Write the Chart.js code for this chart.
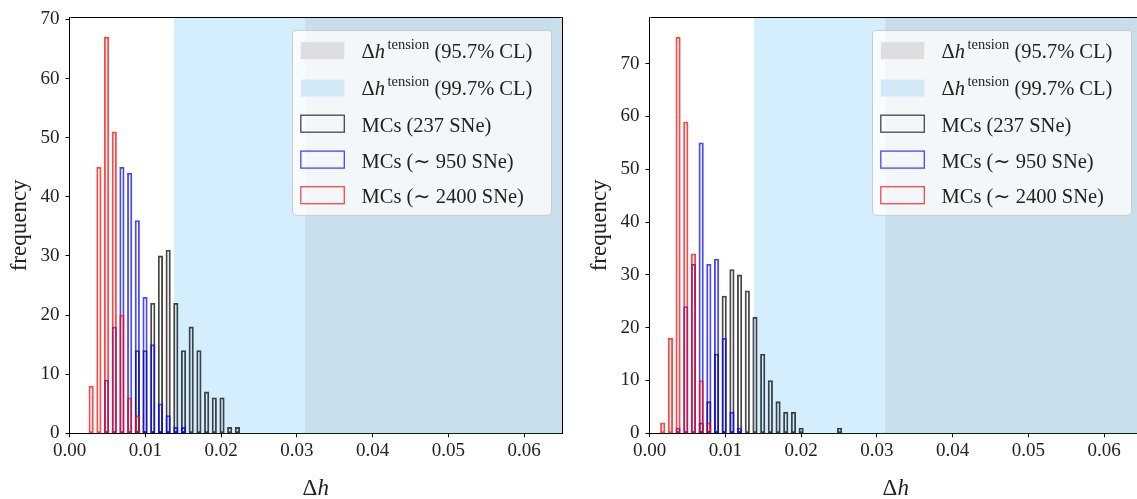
<!DOCTYPE html>
<html><head><meta charset="utf-8">
<script src="https://cdn.jsdelivr.net/npm/chart.js@4.4.1/dist/chart.umd.min.js"></script>
<style>
html,body{margin:0;padding:0;background:#fff;overflow:hidden;width:1137px;height:499px;position:relative;}
.p{position:absolute;top:0;width:580px;height:499px;}
canvas{display:block;}
</style></head><body>
<div class="p" style="left:0"><canvas id="c1" width="580" height="499" style="width:580px;height:499px"></canvas></div>
<div class="p" style="left:580px"><canvas id="c2" width="580" height="499" style="width:580px;height:499px"></canvas></div>
<script>
// ---------- data ----------
const leftBinCenters = [0.00286,0.00388,0.00489,0.00591,0.00692,0.00794,0.00895,0.00997,0.01099,0.01200,0.01302,0.01403,0.01505,0.01606,0.01708,0.01810,0.01911,0.02013,0.02114,0.02216];
const leftBlack = [0,0,0,0,0,0,14,14,22,30,31,22,14,18,14,7,6,6,1,1];
const leftBlue  = [0,0,9,18,45,44,36,23,15,5,3,1,1,0,0,0,0,0,0,0];
const leftRed   = [8,45,67,51,20,6,3,0,0,0,0,0,0,0,0,0,0,0,0,0];

const rightBinCenters = [0.00174,0.00276,0.00377,0.00479,0.00580,0.00682,0.00783,0.00885,0.00986,0.01088,0.01189,0.01291,0.01392,0.01494,0.01595,0.01697,0.01798,0.01900,0.02001,0.02103,0.02204,0.02306,0.02407,0.02509];
const rightBlack = [0,0,0,0,0,2,6,15,26,31,30,27,22,15,10,6,4,4,1,0,0,0,0,1];
const rightBlue  = [0,0,1,24,32,55,32,33,18,4,1,0,0,0,0,0,0,0,0,0,0,0,0,0];
const rightRed   = [2,18,75,59,34,10,2,0,0,0,0,0,0,0,0,0,0,0,0,0,0,0,0,0];

const tension957Start = 0.0311;   // grey band (95.7% CL) starts here
const tension997Start = 0.0138;   // light-blue band (99.7% CL) starts here
const xRange = [0, 0.065];
const xTicks = [0, 0.01, 0.02, 0.03, 0.04, 0.05, 0.06];
const yTicks = [0, 10, 20, 30, 40, 50, 60, 70];
const leftYMax = 70.35;
const rightYMax = 78.75;

const legendLabels = [
  {pre:'\u0394', it:'h', sup:'tension', post:' (95.7% CL)'},
  {pre:'\u0394', it:'h', sup:'tension', post:' (99.7% CL)'},
  {text:'MCs (237 SNe)'},
  {text:'MCs (\u223C 950 SNe)'},
  {text:'MCs (\u223C 2400 SNe)'}
];

// ---------- styles ----------
const SERIF = "'Liberation Serif','DejaVu Serif',serif";
const TXT = '#222';
const C_BLACK = 'rgba(0,0,0,0.72)';
const C_BLUE = 'rgba(0,0,255,0.72)';
const C_RED = 'rgba(255,0,0,0.72)';
const BAND_BLUE = 'rgba(135,206,250,0.35)';
const BAND_GREY = 'rgba(128,128,128,0.15)';

function pts(xs, ys){ const o=[]; xs.forEach((x,i)=>{ if(ys[i]>0) o.push({x:x,y:ys[i]}); }); return o; }

const bandPlugin = {
  id:'bands',
  beforeDatasetsDraw(chart){
    const {ctx, chartArea:a, scales:{x}} = chart;
    ctx.save();
    const x1 = x.getPixelForValue(tension997Start);
    ctx.fillStyle = BAND_BLUE;
    ctx.fillRect(x1, a.top, a.right - x1, a.bottom - a.top);
    const x2 = x.getPixelForValue(tension957Start);
    ctx.fillStyle = BAND_GREY;
    ctx.fillRect(x2, a.top, a.right - x2, a.bottom - a.top);
    ctx.restore();
  }
};

function drawRich(ctx, parts, x, y){
  let cx = x;
  for(const p of parts){
    ctx.font = p.font;
    ctx.fillText(p.t, cx, y + (p.dy||0));
    cx += ctx.measureText(p.t).width + (p.gap||0);
  }
  return cx;
}
function richWidth(ctx, parts){
  let w=0; for(const p of parts){ ctx.font=p.font; w+=ctx.measureText(p.t).width+(p.gap||0);} return w;
}

const decorPlugin = {
  id:'decor',
  afterDraw(chart){
    const {ctx, chartArea:a} = chart;
    ctx.save();
    ctx.strokeStyle = '#000'; ctx.lineWidth = 1;
    ctx.beginPath();
    ctx.moveTo(Math.round(a.left)+0.5, Math.round(a.top)+0.5);
    ctx.lineTo(Math.round(a.right)+0.5, Math.round(a.top)+0.5);
    ctx.lineTo(Math.round(a.right)+0.5, Math.round(a.bottom)+0.5);
    ctx.stroke();

    const w = 259, h = 185;
    const bx = a.right - 10.5 - w, by = a.top + 13;
    ctx.beginPath();
    ctx.roundRect(bx, by, w, h, 4);
    ctx.fillStyle = 'rgba(255,255,255,0.78)';
    ctx.fill();
    ctx.strokeStyle = 'rgba(200,200,200,0.9)';
    ctx.lineWidth = 1;
    ctx.stroke();

    const rowC = [20.2, 57.7, 93.3, 129.2, 164.8];
    const handles = [
      {fill:'#dcdedf'}, {fill:'#d3e9f8'},
      {edge:C_BLACK}, {edge:C_BLUE}, {edge:C_RED}
    ];
    const fMain = '20.5px ' + SERIF;
    const fIt = 'italic 20.5px ' + SERIF;
    const fSup = '14.5px ' + SERIF;
    ctx.textBaseline = 'alphabetic';
    ctx.textAlign = 'left';
    for(let i=0;i<5;i++){
      const cy = by + rowC[i];
      const hx = bx + 8.3, hw = 43.5, hh = 17;
      const hd = handles[i];
      if(hd.fill){ ctx.fillStyle = hd.fill; ctx.fillRect(hx, cy-hh/2, hw, hh); }
      else { ctx.strokeStyle = hd.edge; ctx.lineWidth = 1.3; ctx.strokeRect(hx, cy-hh/2, hw, hh); }
      ctx.fillStyle = TXT;
      const L = legendLabels[i];
      const tx = bx + 69;
      if(L.text){
        ctx.font = fMain; ctx.fillText(L.text, tx, cy + 8.2);
      } else {
        drawRich(ctx, [
          {t:L.pre, font:fMain},
          {t:L.it, font:fIt, gap:2.5},
          {t:L.sup, font:fSup, dy:-9},
          {t:L.post, font:fMain}
        ], tx, cy + 7.2);
      }
    }

    const parts = [{t:'\u0394', font:'23px '+SERIF},{t:'h', font:'italic 23px '+SERIF}];
    const tw = richWidth(ctx, parts);
    ctx.fillStyle = TXT;
    drawRich(ctx, parts, (a.left + a.right)/2 - tw/2, 495);
    ctx.restore();
  }
};

function makeChart(id, bins, blk, blu, red, ymax){
  return new Chart(document.getElementById(id), {
    type:'bar',
    data:{
      datasets:[
        {label:'MCs (237 SNe)', data:pts(bins, blk), borderColor:C_BLACK, backgroundColor:'rgba(0,0,0,0)', order:3},
        {label:'MCs (~ 950 SNe)', data:pts(bins, blu), borderColor:C_BLUE, backgroundColor:'rgba(0,0,0,0)', order:2},
        {label:'MCs (~ 2400 SNe)', data:pts(bins, red), borderColor:C_RED, backgroundColor:'rgba(0,0,0,0)', order:1}
      ]
    },
    options:{
      responsive:false,
      animation:false,
      devicePixelRatio:1,
      datasets:{ bar:{ grouped:false, barThickness:4.5, borderWidth:1.2, borderSkipped:false } },
      layout:{ padding:{ top:12, right:18, left:0, bottom:0 } },
      plugins:{ legend:{display:false}, tooltip:{enabled:false} },
      scales:{
        x:{
          type:'linear', min:xRange[0], max:xRange[1], offset:false,
          afterFit(s){ s.height = 65.7; },
          afterBuildTicks(s){ s.ticks = xTicks.map(v=>({value:v})); },
          grid:{ offset:false, drawOnChartArea:false, drawTicks:true, tickLength:4, color:'#000', tickColor:'#000' },
          border:{ display:true, color:'#000', width:1 },
          ticks:{ padding:2, color:TXT, font:{family:SERIF, size:19}, maxRotation:0, autoSkip:false,
                  callback:(v)=>Number(v).toFixed(2) }
        },
        y:{
          type:'linear', min:0, max:ymax,
          afterFit(s){ s.width = 69.5; },
          afterBuildTicks(s){ s.ticks = yTicks.map(v=>({value:v})); },
          grid:{ drawOnChartArea:false, drawTicks:true, tickLength:4, color:'#000', tickColor:'#000' },
          border:{ display:true, color:'#000', width:1 },
          ticks:{ padding:6, color:TXT, font:{family:SERIF, size:19}, autoSkip:false,
                  callback:(v)=>String(v) },
          title:{ display:true, text:'frequency', color:TXT, font:{family:SERIF, size:23}, padding:{top:6.5, bottom:0} }
        }
      }
    },
    plugins:[bandPlugin, decorPlugin]
  });
}

makeChart('c1', leftBinCenters, leftBlack, leftBlue, leftRed, leftYMax);
makeChart('c2', rightBinCenters, rightBlack, rightBlue, rightRed, rightYMax);
</script>
</body></html>
